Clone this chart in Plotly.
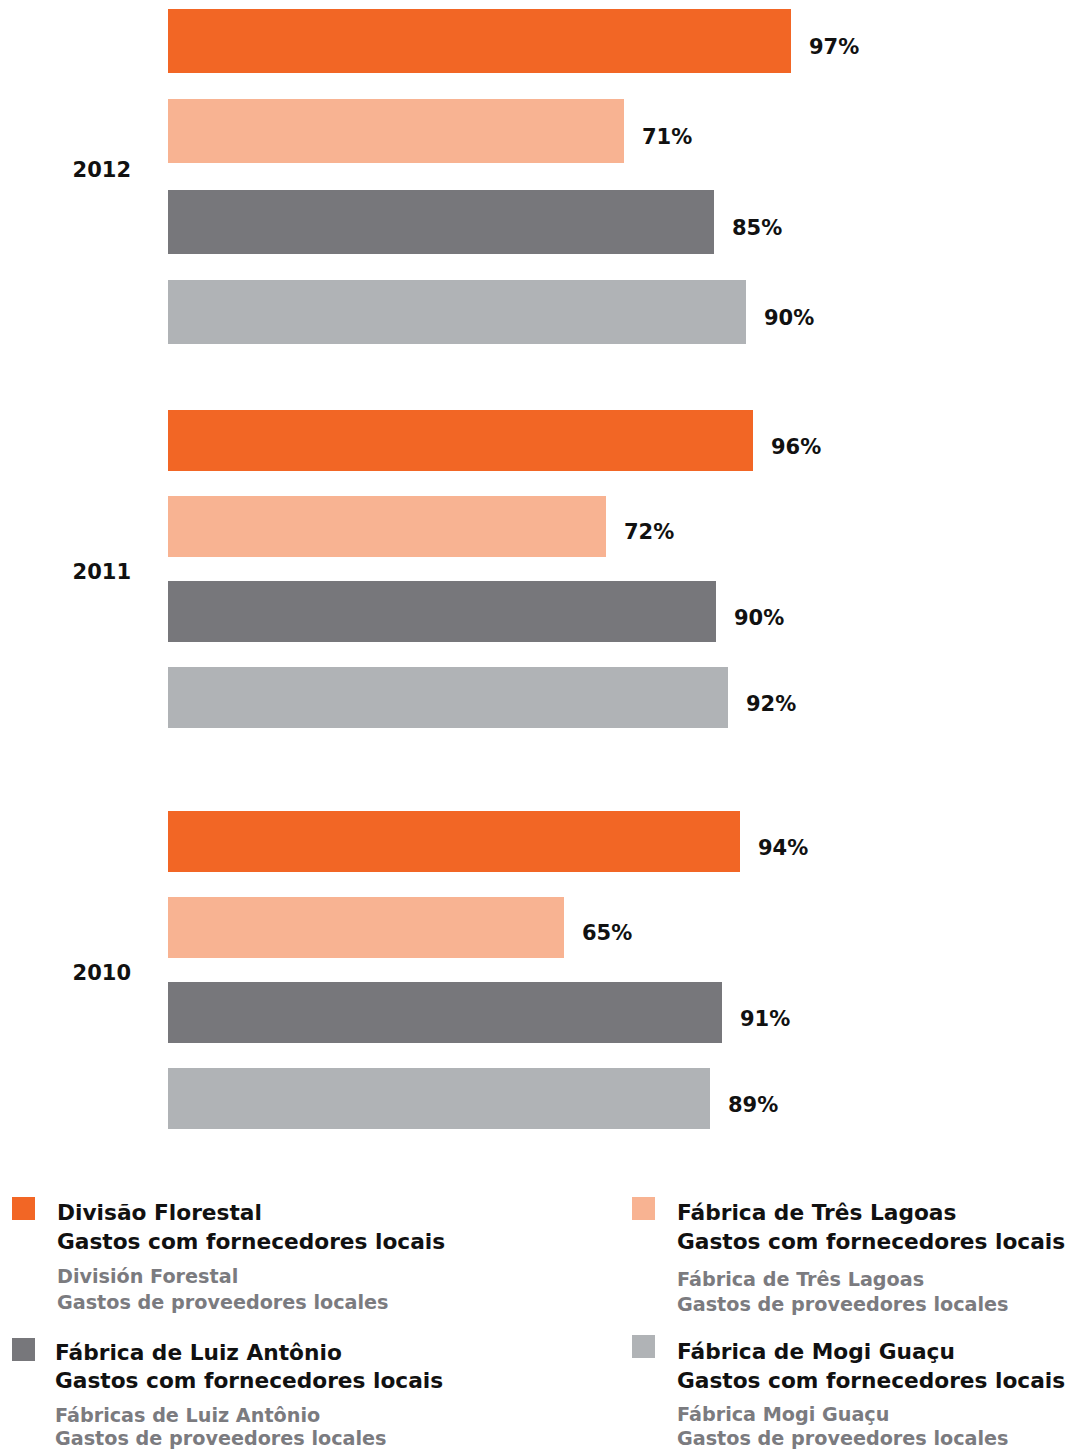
import plotly.graph_objects as go

# Share of spending with local suppliers, by unit and year
years = ["2012", "2011", "2010"]
units = [
    "Divisão Florestal",
    "Fábrica de Três Lagoas",
    "Fábrica de Luiz Antônio",
    "Fábrica de Mogi Guaçu",
]
values_2012 = [97, 71, 85, 90]
values_2011 = [96, 72, 90, 92]
values_2010 = [94, 65, 91, 89]
value_labels_2012 = ["97%", "71%", "85%", "90%"]
value_labels_2011 = ["96%", "72%", "90%", "92%"]
value_labels_2010 = ["94%", "65%", "91%", "89%"]

legend_pt = [
    "Divisão Florestal",
    "Fábrica de Três Lagoas",
    "Fábrica de Luiz Antônio",
    "Fábrica de Mogi Guaçu",
]
legend_pt_sub = "Gastos com fornecedores locais"
legend_es = [
    "División Forestal",
    "Fábrica de Três Lagoas",
    "Fábricas de Luiz Antônio",
    "Fábrica Mogi Guaçu",
]
legend_es_sub = "Gastos de proveedores locales"

colors = ["#F26625", "#F8B392", "#77777B", "#B0B3B6"]

W, H = 1070, 1451
FONT = "DejaVu Sans"
GROUP_STEP = 4.68  # bar slots between consecutive year groups (lower panel)


def py(px):
    """Convert a pixel row (from top) to paper y."""
    return 1 - px / H


label_font = dict(family=FONT, size=21, color="#111111", weight="bold")

fig = go.Figure()

# Upper panel: 2012
pos_top = list(range(len(units)))
for k in range(len(units)):
    fig.add_trace(go.Bar(
        x=[values_2012[k]], y=[pos_top[k]], orientation="h",
        marker=dict(color=colors[k], line=dict(width=0)),
        width=0.709, xaxis="x2", yaxis="y2", showlegend=False,
        hoverinfo="skip",
    ))
    fig.add_annotation(
        x=values_2012[k], y=pos_top[k], xref="x2", yref="y2",
        text=value_labels_2012[k], showarrow=False, xanchor="left",
        xshift=16, yshift=-6, font=label_font,
    )

# Lower panel: 2011 and 2010
lower = [(values_2011, value_labels_2011), (values_2010, value_labels_2010)]
for g, (vals, labs) in enumerate(lower):
    for k in range(len(units)):
        p = g * GROUP_STEP + k
        fig.add_trace(go.Bar(
            x=[vals[k]], y=[p], orientation="h",
            marker=dict(color=colors[k], line=dict(width=0)),
            width=0.712, xaxis="x", yaxis="y", showlegend=False,
            hoverinfo="skip",
        ))
        fig.add_annotation(
            x=vals[k], y=p, xref="x", yref="y",
            text=labs[k], showarrow=False, xanchor="left",
            xshift=16, yshift=-6, font=label_font,
        )

x_left = 168 / W
tick_font = dict(family=FONT, size=21, color="#111111", weight="bold")

# pixel geometry of the panels
top_unit = 90.3
top_dom = (0, 360)
low_unit = 85.7
low_dom = (380, 1150)
top_r0 = -41 / top_unit
low_r0 = -(440.5 - low_dom[0]) / low_unit

fig.update_layout(
    width=W, height=H,
    margin=dict(l=0, r=0, t=0, b=0),
    paper_bgcolor="white", plot_bgcolor="white",
    bargap=0,
    xaxis=dict(domain=[x_left, 1], range=[0, 902 / 6.09], visible=False,
               fixedrange=True),
    yaxis=dict(domain=[py(low_dom[1]), py(low_dom[0])],
               range=[low_r0 + (low_dom[1] - low_dom[0]) / low_unit, low_r0],
               tickvals=[g * GROUP_STEP + 1.53 for g in range(2)],
               ticktext=years[1:], showgrid=False, zeroline=False,
               showline=False, ticks="", ticklabelstandoff=36,
               tickfont=tick_font, automargin=False, fixedrange=True),
    xaxis2=dict(domain=[x_left, 1], range=[0, 902 / 6.42], visible=False,
                anchor="y2", fixedrange=True),
    yaxis2=dict(domain=[py(top_dom[1]), py(top_dom[0])],
                range=[top_r0 + (top_dom[1] - top_dom[0]) / top_unit, top_r0],
                tickvals=[1.43], ticktext=years[:1], anchor="x2",
                showgrid=False, zeroline=False, showline=False, ticks="",
                ticklabelstandoff=36, tickfont=tick_font, automargin=False,
                fixedrange=True),
)

# Custom legend: colour swatch + bilingual captions
legend_layout = [
    # (swatch x0, swatch y0, text x, line rows)
    (12, 1197, 55, [1212, 1241, 1276, 1302]),
    (632, 1197, 675, [1212, 1241, 1279, 1304]),
    (12, 1338, 53, [1352, 1380, 1415, 1438]),
    (632, 1335, 675, [1351, 1380, 1414, 1438]),
]
for i, (sx, sy, tx, rows) in enumerate(legend_layout):
    fig.add_shape(
        type="rect", xref="paper", yref="paper",
        x0=sx / W, x1=(sx + 23) / W, y0=py(sy), y1=py(sy + 23),
        fillcolor=colors[i], line=dict(width=0),
    )
    lines = [
        (legend_pt[i], 21.7, "#111111"),
        (legend_pt_sub, 21.7, "#111111"),
        (legend_es[i], 19.2, "#7B7B7F"),
        (legend_es_sub, 19.2, "#7B7B7F"),
    ]
    for (txt, size, col), row in zip(lines, rows):
        fig.add_annotation(
            x=tx / W, y=py(row), xref="paper", yref="paper",
            text=txt, showarrow=False, xanchor="left", yanchor="middle",
            font=dict(family=FONT, size=size, color=col, weight="bold"),
        )

fig.write_html("out.html")
